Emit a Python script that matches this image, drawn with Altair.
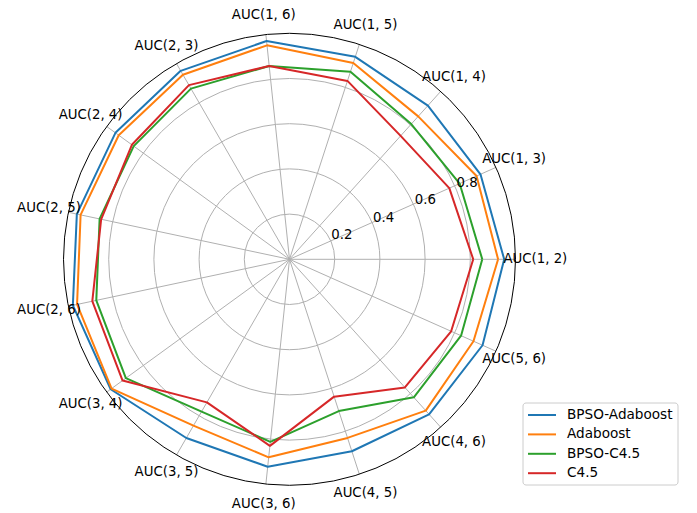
import altair as alt
import pandas as pd

categories = ["AUC(1, 2)", "AUC(1, 3)", "AUC(1, 4)", "AUC(1, 5)", "AUC(1, 6)",
              "AUC(2, 3)", "AUC(2, 4)", "AUC(2, 5)", "AUC(2, 6)", "AUC(3, 4)",
              "AUC(3, 5)", "AUC(3, 6)", "AUC(4, 5)", "AUC(4, 6)", "AUC(5, 6)"]
series_names = ["BPSO-Adaboost", "Adaboost", "BPSO-C4.5", "C4.5"]
bpso_adaboost = [0.950, 0.925, 0.915, 0.942, 0.971, 0.963, 0.952, 0.962, 0.980, 0.978, 0.913, 0.923, 0.893, 0.923, 0.935]
adaboost      = [0.923, 0.906, 0.851, 0.913, 0.952, 0.943, 0.934, 0.945, 0.961, 0.973, 0.850, 0.881, 0.831, 0.901, 0.891]
bpso_c45      = [0.853, 0.824, 0.805, 0.873, 0.860, 0.872, 0.852, 0.859, 0.874, 0.895, 0.778, 0.812, 0.706, 0.822, 0.831]
c45           = [0.813, 0.774, 0.735, 0.830, 0.860, 0.890, 0.862, 0.852, 0.892, 0.913, 0.731, 0.830, 0.639, 0.763, 0.783]
colors = ["#1f77b4", "#ff7f0e", "#2ca02c", "#d62728"]
r_ticks = [0.2, 0.4, 0.6, 0.8]
r_max = 1.0

# layout
W, H = 681, 505
CX, CY = 281.5, 251.3   # centre of the polar area in chart pixels
RPX = 226.0             # pixels per unit radius
xs = alt.Scale(domain=[-CX / RPX, (W - CX) / RPX], nice=False, zero=False)
ys = alt.Scale(domain=[-(H - CY) / RPX, CY / RPX], nice=False, zero=False)
N = len(categories)
FONT = "DejaVu Sans"
FS = 13.3

all_vals = [bpso_adaboost, adaboost, bpso_c45, c45]
rows = []
for name, vals in zip(series_names, all_vals):
    for k in range(N + 1):
        rows.append({"series": name, "k": k, "idx": k % N, "value": vals[k % N]})
lines_df = pd.DataFrame(rows)

cat_df = pd.DataFrame({"cat": categories, "idx": list(range(N))})
ring_df = pd.DataFrame({"r": r_ticks})
outer_df = pd.DataFrame({"r": [r_max]})
tick_df = pd.DataFrame({"r": r_ticks, "lab": [f"{t:.1f}" for t in r_ticks]})

theta = f"2*PI*datum.idx/{N}"

def X(f):
    return alt.X(f, scale=xs, axis=None)

def Y(f):
    return alt.Y(f, scale=ys, axis=None)

rings = alt.Chart(ring_df).transform_calculate(
    z="0", s=f"pow(2*{RPX}*datum.r, 2)"
).mark_point(shape="circle", filled=False, stroke="#b0b0b0", strokeWidth=1, opacity=1).encode(
    x=X("z:Q"), y=Y("z:Q"), size=alt.Size("s:Q", scale=None, legend=None)
)

outer = alt.Chart(outer_df).transform_calculate(
    z="0", s=f"pow(2*{RPX}*datum.r, 2)"
).mark_point(shape="circle", filled=False, stroke="black", strokeWidth=1, opacity=1).encode(
    x=X("z:Q"), y=Y("z:Q"), size=alt.Size("s:Q", scale=None, legend=None)
)

spokes = alt.Chart(cat_df).transform_calculate(
    z="0", x1=f"{r_max}*cos({theta})", y1=f"{r_max}*sin({theta})"
).mark_rule(stroke="#b0b0b0", strokeWidth=1).encode(
    x=X("z:Q"), y=Y("z:Q"), x2="x1:Q", y2="y1:Q"
)

legend = alt.Legend(
    title=None, orient="none", legendX=514.5, legendY=394.5, direction="vertical",
    symbolType="M-1,0H3", symbolSize=196, symbolStrokeWidth=2, symbolOpacity=1,
    labelFont=FONT, labelFontSize=13.6, labelColor="black", labelOffset=24,
    labelLimit=300, rowPadding=4.4, padding=4.5,
    strokeColor="#cccccc", fillColor="white", cornerRadius=3,
)
cscale = alt.Scale(domain=series_names, range=colors)

line_layers = []
for name in series_names:
    line_layers.append(
        alt.Chart(lines_df).transform_filter(alt.datum.series == name).transform_calculate(
            x=f"datum.value*cos({theta})", y=f"datum.value*sin({theta})"
        ).mark_line(strokeWidth=2, strokeJoin="round").encode(
            x=X("x:Q"), y=Y("y:Q"), order=alt.Order("k:Q"),
            color=alt.Color("series:N", scale=cscale, legend=legend),
        )
    )

cat_labels = alt.Chart(cat_df).transform_calculate(
    x=f"1.088*cos({theta})", y=f"1.088*sin({theta})"
).mark_text(font=FONT, fontSize=FS, color="black", align="center", baseline="middle").encode(
    x=X("x:Q"), y=Y("y:Q"), text="cat:N"
)

r_labels = alt.Chart(tick_df).transform_calculate(
    x="datum.r*cos(PI/8)", y="datum.r*sin(PI/8)"
).mark_text(font=FONT, fontSize=FS, color="black", align="left", baseline="bottom").encode(
    x=X("x:Q"), y=Y("y:Q"), text="lab:N"
)

chart = alt.layer(
    rings, spokes, *line_layers, outer, cat_labels, r_labels
).properties(
    width=W, height=H, padding=0, autosize=alt.AutoSizeParams(type="none")
).configure_view(stroke=None)

chart.save("out.html", embed_options={"renderer": "svg", "actions": False})
